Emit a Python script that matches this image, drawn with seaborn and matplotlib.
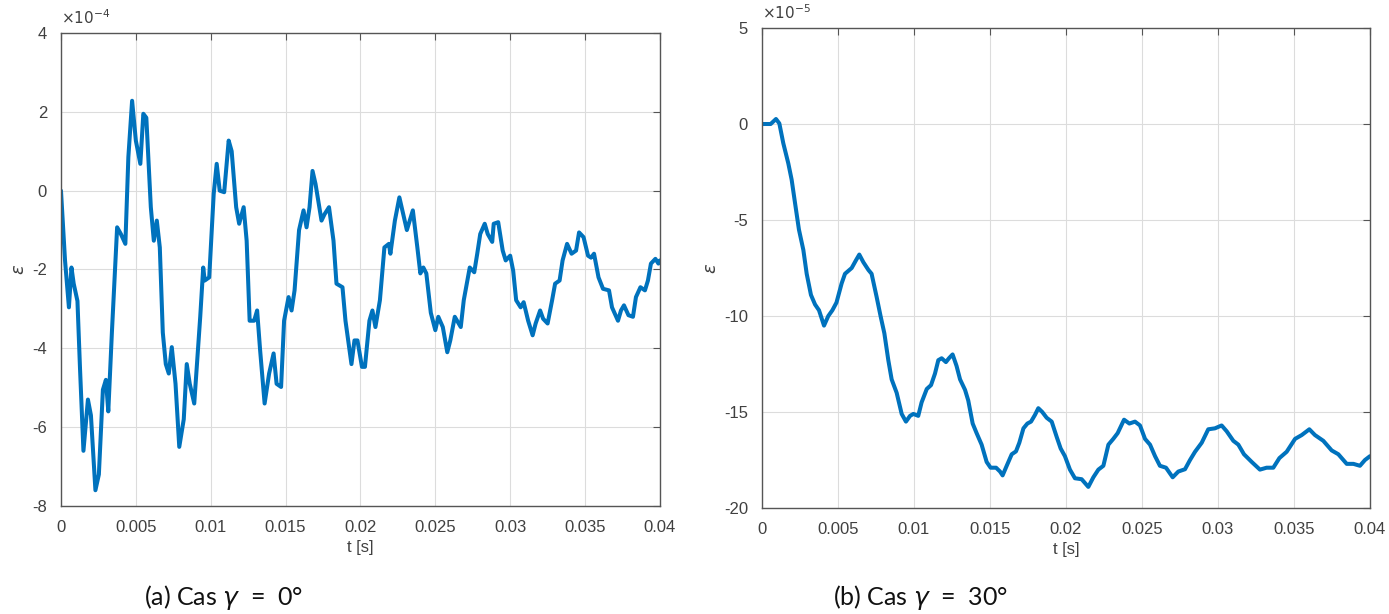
import numpy as np
import pandas as pd
import matplotlib
matplotlib.use("Agg")
import matplotlib.pyplot as plt
import seaborn as sns

# --- data (t in s, strain in units of 1e-4 / 1e-5) ---
t_a = [0, 0.00027, 0.00053, 0.0007, 0.00085, 0.0011, 0.00127, 0.0015, 0.0018, 0.002,
       0.0023, 0.00253, 0.0028, 0.003, 0.00316, 0.0034, 0.00375, 0.004, 0.0043, 0.0045,
       0.00475, 0.005, 0.0053, 0.0055, 0.0057, 0.006, 0.0062, 0.0064, 0.0066, 0.0068,
       0.007, 0.0072, 0.0074, 0.00765, 0.0079, 0.0082, 0.0084, 0.0086, 0.0089, 0.0093,
       0.0095, 0.0096, 0.0099, 0.0102, 0.0104, 0.0106, 0.0109, 0.0112, 0.0114, 0.0117,
       0.0119, 0.0122, 0.0124, 0.0126, 0.0129, 0.0131, 0.0133, 0.0136, 0.0139, 0.0142,
       0.0144, 0.0147, 0.0149, 0.0152, 0.0154, 0.0156, 0.0159, 0.0162, 0.0164, 0.0166,
       0.0168, 0.017, 0.0174, 0.0176, 0.0179, 0.0182, 0.0184, 0.0188, 0.019, 0.0194,
       0.0196, 0.0198, 0.0201, 0.0203, 0.0206, 0.0208, 0.021, 0.0213, 0.0216, 0.0219,
       0.022, 0.0223, 0.0226, 0.0228, 0.0231, 0.0235, 0.0238, 0.024, 0.0242, 0.0244,
       0.0247, 0.025, 0.0252, 0.0255, 0.0258, 0.026, 0.0263, 0.0267, 0.0269, 0.0273,
       0.0276, 0.0278, 0.028, 0.0283, 0.0285, 0.0288, 0.0289, 0.0292, 0.0295, 0.0297,
       0.03, 0.0302, 0.0304, 0.0307, 0.0309, 0.0312, 0.0315, 0.0317, 0.032, 0.0322,
       0.0325, 0.0328, 0.033, 0.0333, 0.0335, 0.0338, 0.0341, 0.0344, 0.0346, 0.0349,
       0.0352, 0.0354, 0.0356, 0.0359, 0.0362, 0.0366, 0.0368, 0.0372, 0.0374, 0.0376,
       0.0379, 0.0382, 0.0384, 0.0387, 0.039, 0.0392, 0.0394, 0.0397, 0.0399, 0.04]
eps_a = [0, -1.77, -2.96, -1.95, -2.36, -2.8, -4.5, -6.6, -5.3, -5.7,
         -7.6, -7.2, -5.05, -4.8, -5.6, -3.6, -0.93, -1.1, -1.35, 0.85,
         2.28, 1.27, 0.68, 1.95, 1.85, -0.42, -1.27, -0.76, -1.44, -3.6,
         -4.4, -4.64, -3.97, -4.9, -6.5, -5.8, -4.4, -4.9, -5.4, -3.2,
         -1.95, -2.28, -2.2, -0.08, 0.68, 0, -0.04, 1.27, 1.0, -0.42,
         -0.84, -0.42, -1.27, -3.3, -3.3, -3.04, -4.05, -5.4, -4.64, -4.13,
         -4.9, -4.98, -3.3, -2.7, -3.04, -2.53, -1.0, -0.5, -0.93, -0.42,
         0.5, 0.17, -0.76, -0.6, -0.42, -1.27, -2.36, -2.45, -3.3, -4.4,
         -3.8, -3.8, -4.47, -4.47, -3.3, -3.04, -3.46, -2.78, -1.44, -1.35,
         -1.6, -0.76, -0.17, -0.5, -1.0, -0.5, -1.44, -2.1, -1.95, -2.1,
         -3.1, -3.54, -3.2, -3.46, -4.1, -3.8, -3.2, -3.46, -2.78, -1.95,
         -2.07, -1.6, -1.1, -0.84, -1.1, -1.3, -0.84, -0.8, -1.52, -1.77,
         -1.65, -2.03, -2.78, -2.96, -2.83, -3.3, -3.67, -3.37, -3.04, -3.25,
         -3.37, -2.78, -2.36, -2.28, -1.77, -1.35, -1.6, -1.52, -1.06, -1.18,
         -1.65, -1.7, -1.6, -2.2, -2.49, -2.53, -2.96, -3.3, -3.04, -2.91,
         -3.16, -3.2, -2.7, -2.45, -2.53, -2.28, -1.85, -1.73, -1.85, -1.77]

t_b = [0, 0.00057, 0.00092, 0.00114, 0.0014, 0.00173, 0.00195, 0.00217, 0.00243, 0.00272,
       0.00294, 0.00322, 0.00349, 0.00375, 0.00408, 0.00436, 0.00463, 0.0049, 0.00524, 0.00546,
       0.0059, 0.00618, 0.0064, 0.00667, 0.007, 0.00721, 0.00754, 0.0078, 0.00805, 0.00831,
       0.00853, 0.00886, 0.00919, 0.00947, 0.00974, 0.00996, 0.01028, 0.0105, 0.01084, 0.01112,
       0.01138, 0.0116, 0.01182, 0.0121, 0.0123, 0.01254, 0.0128, 0.01303, 0.01336, 0.01357,
       0.01386, 0.01412, 0.01445, 0.01478, 0.01504, 0.0154, 0.01566, 0.01583, 0.0161, 0.01643,
       0.01671, 0.01693, 0.0172, 0.01746, 0.0177, 0.01796, 0.01818, 0.01844, 0.01873, 0.01906,
       0.01939, 0.01965, 0.01993, 0.02026, 0.02059, 0.02103, 0.02147, 0.0218, 0.02213, 0.02246,
       0.02279, 0.02311, 0.0234, 0.02382, 0.02417, 0.02454, 0.02487, 0.0252, 0.02553, 0.02586,
       0.02618, 0.02658, 0.02702, 0.02739, 0.02783, 0.02816, 0.02849, 0.02893, 0.02936, 0.0298,
       0.03024, 0.03057, 0.03101, 0.03134, 0.03171, 0.03222, 0.03276, 0.0332, 0.03364, 0.03404,
       0.03452, 0.03507, 0.03551, 0.03601, 0.03638, 0.03693, 0.03748, 0.03792, 0.03847, 0.03891,
       0.03934, 0.03967, 0.04]
eps_b = [0, 0, 0.26, 0.03, -1.0, -2.05, -2.9, -4.1, -5.5, -6.56,
         -7.8, -8.9, -9.4, -9.7, -10.5, -10.0, -9.7, -9.3, -8.3, -7.8,
         -7.5, -7.1, -6.8, -7.2, -7.6, -7.8, -9.0, -10.0, -10.9, -12.3,
         -13.3, -14.0, -15.1, -15.5, -15.2, -15.1, -15.2, -14.5, -13.8, -13.6,
         -13.0, -12.3, -12.2, -12.4, -12.2, -12.0, -12.6, -13.3, -13.85, -14.4,
         -15.6, -16.1, -16.7, -17.6, -17.9, -17.9, -18.1, -18.3, -17.8, -17.2,
         -17.05, -16.6, -15.85, -15.6, -15.5, -15.15, -14.8, -15.0, -15.3, -15.5,
         -16.3, -16.9, -17.3, -18.0, -18.45, -18.5, -18.9, -18.4, -18.0, -17.8,
         -16.7, -16.4, -16.1, -15.4, -15.6, -15.5, -15.7, -16.4, -16.7, -17.3,
         -17.8, -17.9, -18.4, -18.1, -17.98, -17.5, -17.07, -16.6, -15.9, -15.85,
         -15.7, -16.0, -16.5, -16.7, -17.2, -17.6, -18.0, -17.9, -17.9, -17.4,
         -17.07, -16.4, -16.2, -15.9, -16.2, -16.5, -17.0, -17.2, -17.7, -17.7,
         -17.8, -17.5, -17.3]

x_ticks = [0, 0.005, 0.01, 0.015, 0.02, 0.025, 0.03, 0.035, 0.04]
x_labels = ["0", "0.005", "0.01", "0.015", "0.02", "0.025", "0.03", "0.035", "0.04"]
y_ticks_a = [-8, -6, -4, -2, 0, 2, 4]
y_ticks_b = [-20, -15, -10, -5, 0, 5]
captions = [r"(a) Cas $\gamma$  =  0°", r"(b) Cas $\gamma$  =  30°"]
exponents = [r"$\times10^{-4}$", r"$\times10^{-5}$"]

sns.set_style("white")
plt.rcParams["font.family"] = ["Liberation Sans", "DejaVu Sans"]

line_col = "#0072BD"
text_col = "#404040"

fig = plt.figure(figsize=(13.89, 6.14), dpi=100)
ax_a = fig.add_axes([0.0439, 0.1759, 0.4312, 0.7704])
ax_b = fig.add_axes([0.5486, 0.1726, 0.4377, 0.7818])

df_a = pd.DataFrame({"t": t_a, "eps": eps_a})
df_b = pd.DataFrame({"t": t_b, "eps": eps_b})

panels = [(ax_a, df_a, y_ticks_a, exponents[0]), (ax_b, df_b, y_ticks_b, exponents[1])]
for ax, df, yt, expo in panels:
    sns.lineplot(data=df, x="t", y="eps", ax=ax, color=line_col, linewidth=2.9,
                 solid_joinstyle="round", solid_capstyle="round")
    ax.set_xlim(0, 0.04)
    ax.set_ylim(yt[0], yt[-1])
    ax.set_xticks(x_ticks)
    ax.set_xticklabels(x_labels)
    ax.set_yticks(yt)
    ax.set_yticklabels([str(v) for v in yt])
    ax.grid(True, color="#dcdcdc", linewidth=0.8)
    ax.set_axisbelow(True)
    for s in ax.spines.values():
        s.set_visible(True)
        s.set_color("#555555")
        s.set_linewidth(1.0)
    ax.tick_params(direction="in", length=5, width=0.8, color="#555555",
                   top=True, right=True, labelsize=12, labelcolor=text_col, pad=10)
    ax.set_xlabel("t [s]", fontsize=12, color=text_col, labelpad=4)
    ax.set_ylabel(r"$\epsilon$", fontsize=13, color=text_col, labelpad=3)
    ax.text(0.0, 1.012, expo, transform=ax.transAxes, fontsize=11,
            color=text_col, ha="left", va="bottom")

fig.text(224 / 1389, 1 - 597 / 614, captions[0], fontsize=18, family=["Lato", "DejaVu Sans"],
         ha="center", va="center", color="#111111")
fig.text(921 / 1389, 1 - 597 / 614, captions[1], fontsize=18, family=["Lato", "DejaVu Sans"],
         ha="center", va="center", color="#111111")

fig.savefig("out.png", dpi=100)
